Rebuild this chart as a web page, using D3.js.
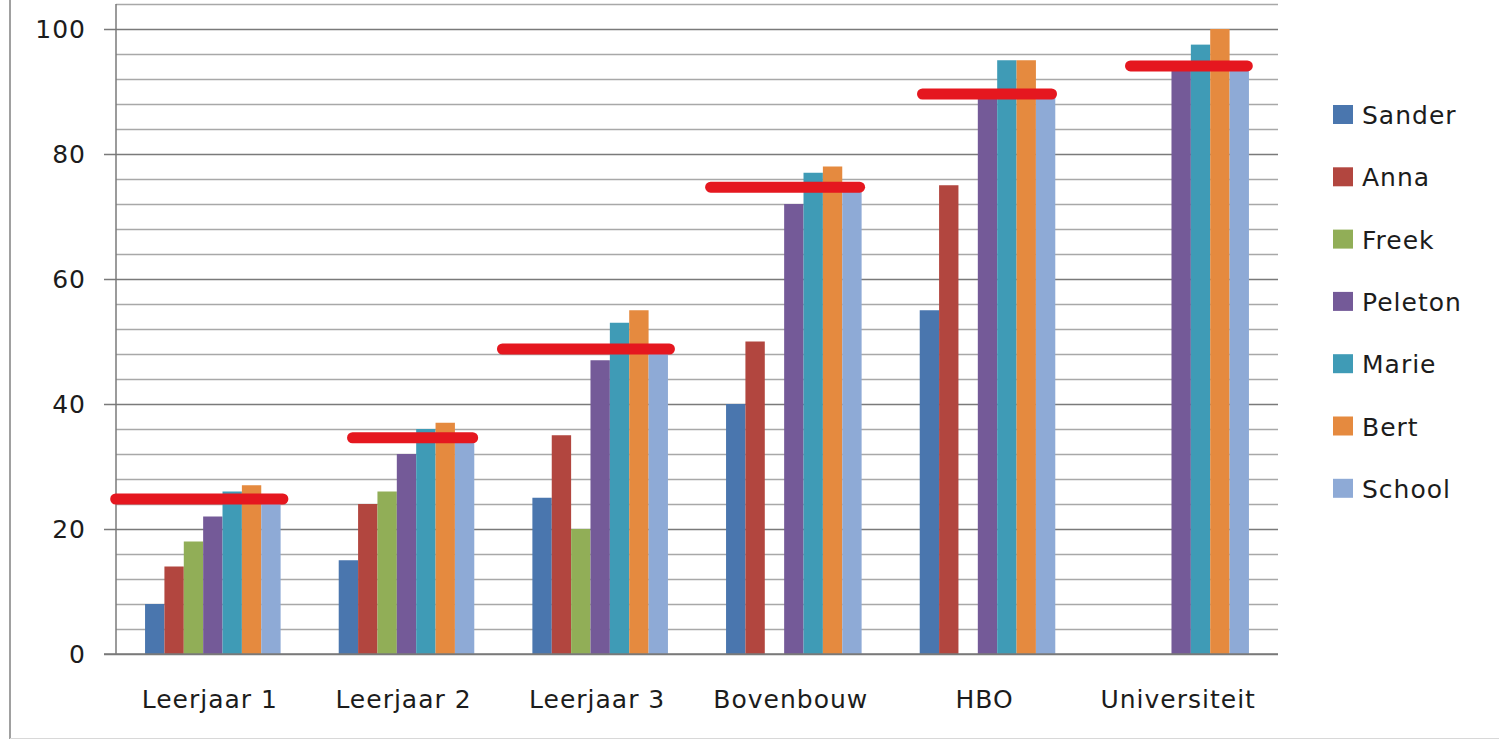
<!DOCTYPE html>
<html>
<head>
<meta charset="utf-8">
<script src="https://cdn.jsdelivr.net/npm/d3@7"></script>
<style>
body { margin:0; background:#fff; }
text { font-family:"DejaVu Sans", Verdana, sans-serif; fill:#1c1c1c; }
</style>
</head>
<body>
<svg id="chart" width="1499" height="740"></svg>
<script>
var categories = ["Leerjaar 1","Leerjaar 2","Leerjaar 3","Bovenbouw","HBO","Universiteit"];
var seriesNames = ["Sander","Anna","Freek","Peleton","Marie","Bert","School"];
var sander  = [8, 15, 25, 40, 55, 0];
var anna    = [14, 24, 35, 50, 75, 0];
var freek   = [18, 26, 20, 0, 0, 0];
var peleton = [22, 32, 47, 72, 90, 94];
var marie   = [26, 36, 53, 77, 95, 97.5];
var bert    = [27, 37, 55, 78, 95, 100];
var school  = [25, 35, 49, 75, 90, 94];
// hand drawn red marker per group: level, and start/end in bar slots
var target     = [24.8, 34.6, 48.8, 74.7, 89.6, 94.1];
var targetFrom = [-1.8, 0.43, -1.83, -1.08, -0.14, 0.6];
var targetTo   = [7.4, 7.2, 7.36, 7.18, 7.09, 7.2];
var yTicks = [0, 20, 40, 60, 80, 100];

var colors = ["#4a76ae","#b2463f","#91ae57","#745a98","#3f9bb6","#e58a3f","#8eaad6"];
var values = [sander, anna, freek, peleton, marie, bert, school];

var svg = d3.select("#chart");
var plotLeft = 116, plotRight = 1278, plotTop = 4, plotBottom = 654;

var y = d3.scaleLinear().domain([0, 104]).range([plotBottom, plotTop]);
var x0 = d3.scaleBand().domain(categories).range([plotLeft, plotRight])
    .paddingInner(0.3).paddingOuter(0.15);
var x1 = d3.scaleBand().domain(seriesNames).range([0, x0.bandwidth()]);
var color = d3.scaleOrdinal().domain(seriesNames).range(colors);

// outer frame bits
svg.append("line").attr("x1",10).attr("x2",10).attr("y1",0).attr("y2",739)
  .attr("stroke","#a0a0a0").attr("stroke-width",2);
svg.append("line").attr("x1",10).attr("x2",1499).attr("y1",738.5).attr("y2",738.5)
  .attr("stroke","#d8d8d8").attr("stroke-width",1);

// gridlines: minor every 4, major every 20
var grid = d3.range(4, 105, 4).filter(function(v){ return v % 20 != 0; });
svg.append("g").selectAll("line").data(grid).enter().append("line")
  .attr("x1", plotLeft).attr("x2", plotRight)
  .attr("y1", function(d){ return Math.round(y(d))+0.5; })
  .attr("y2", function(d){ return Math.round(y(d))+0.5; })
  .attr("stroke","#a8a8a8").attr("stroke-width",1.3);

var yAxis = d3.axisLeft(y).tickValues(yTicks).tickSize(12).tickPadding(18);
var gy = svg.append("g").attr("transform","translate(" + plotLeft + ",0)").call(yAxis);
gy.select(".domain").remove();
gy.selectAll(".tick line").attr("stroke","#7a7a7a").attr("stroke-width",1.5)
  .attr("x2", plotRight - plotLeft).attr("x1", -12);
gy.selectAll(".tick text").attr("font-size", 25).attr("letter-spacing","1px")
  .attr("fill","#1c1c1c").style("font-family","'DejaVu Sans', Verdana, sans-serif");

// bars
var groups = svg.append("g").selectAll("g").data(categories).enter().append("g")
  .attr("transform", function(d){ return "translate(" + x0(d) + ",0)"; });
groups.selectAll("rect")
  .data(function(d, i){ return seriesNames.map(function(s, k){ return {s:s, v:values[k][i]}; }); })
  .enter().append("rect")
  .attr("x", function(d){ return x1(d.s); })
  .attr("width", x1.bandwidth())
  .attr("y", function(d){ return y(d.v); })
  .attr("height", function(d){ return plotBottom - y(d.v); })
  .attr("fill", function(d){ return color(d.s); });

// axis lines
svg.append("line").attr("x1", plotLeft).attr("x2", plotLeft).attr("y1", y(104)).attr("y2", plotBottom)
  .attr("stroke","#7a7a7a").attr("stroke-width",1.5);
svg.append("line").attr("x1", plotLeft - 12).attr("x2", plotRight).attr("y1", plotBottom).attr("y2", plotBottom)
  .attr("stroke","#7a7a7a").attr("stroke-width",1.5);

// x labels
svg.append("g").selectAll("text").data(categories).enter().append("text")
  .attr("x", function(d){ return x0(d) + x0.bandwidth()/2 - 3; })
  .attr("y", 708)
  .attr("text-anchor","middle")
  .attr("font-size", 25).attr("letter-spacing","1px")
  .text(function(d){ return d; });

// red markers
var cap = 11;
svg.append("g").selectAll("line").data(categories).enter().append("line")
  .attr("x1", function(d, i){ return x0(d) + targetFrom[i]*x1.step() + cap/2; })
  .attr("x2", function(d, i){ return x0(d) + targetTo[i]*x1.step() - cap/2; })
  .attr("y1", function(d, i){ return y(target[i]); })
  .attr("y2", function(d, i){ return y(target[i]); })
  .attr("stroke","#e5171f").attr("stroke-width",cap).attr("stroke-linecap","round");

// legend
var legend = svg.append("g").selectAll("g").data(seriesNames).enter().append("g")
  .attr("transform", function(d, i){ return "translate(1333," + (115 + i*62.3) + ")"; });
legend.append("rect").attr("x",0).attr("y",-10).attr("width",20).attr("height",19)
  .attr("fill", function(d){ return color(d); });
legend.append("text").attr("x",29).attr("y",0).attr("dy","0.36em")
  .attr("font-size",25).attr("letter-spacing","1px")
  .text(function(d){ return d; });
</script>
</body>
</html>
